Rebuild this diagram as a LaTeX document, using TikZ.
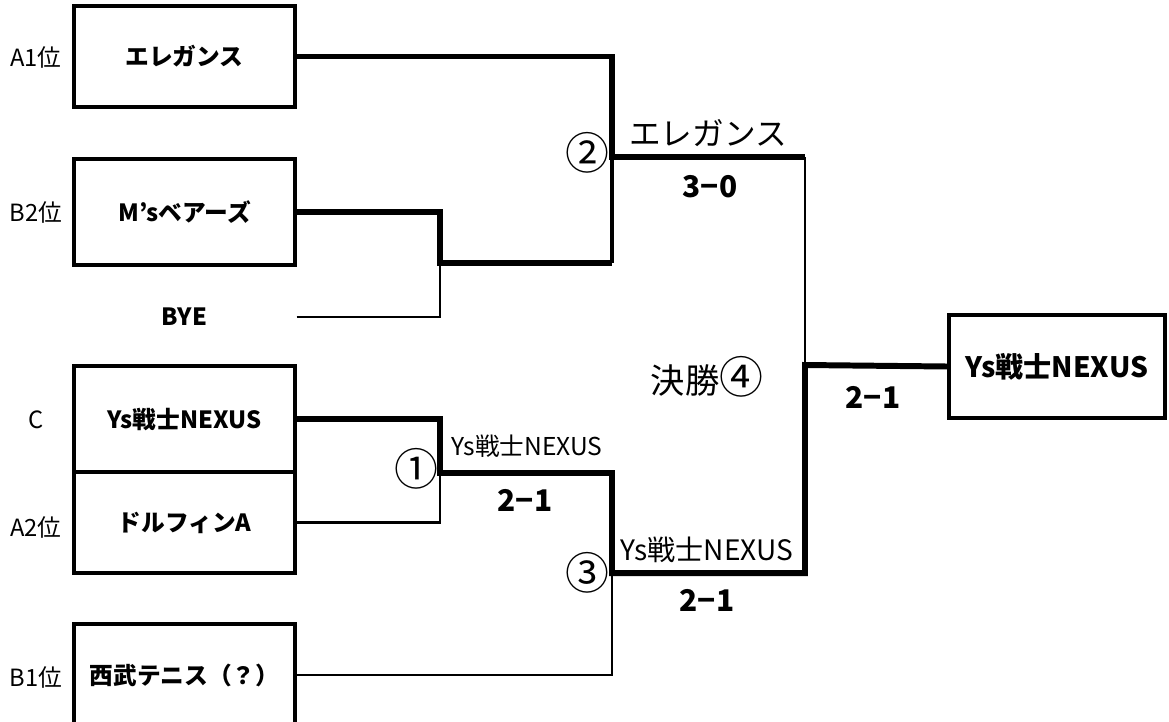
\documentclass[tikz,border=0pt]{standalone}
\usepackage{fontspec}
\setmainfont{Noto Sans CJK JP}
\usepackage{tikz}

\newcommand{\circnum}[1]{{\fontsize{25}{25}\selectfont #1}}

\begin{document}
\begin{tikzpicture}
    [x=0.02cm, y=-0.02cm,
      team/.style={draw, line width=1.8pt, minimum width=4.42cm, inner sep=0pt,
        font=\bfseries\fontsize{13.5}{16}\selectfont},
      seed/.style={font=\fontsize{13.5}{16}\selectfont},
      big/.style={font=\fontsize{18}{21}\selectfont},
      small/.style={font=\fontsize{14}{16}\selectfont},
      score/.style={font=\bfseries\fontsize{17}{20}\selectfont},
      win/.style={line width=3.4pt},
      mid/.style={line width=1.8pt},
      lose/.style={line width=1.2pt}]
    \useasboundingbox (0,0) rectangle (1169,721);

    \node[team, minimum height=2.02cm] (ele) at (184.5,56.5) {エレガンス};
    \node[team, minimum height=2.12cm] (ms) at (184.5,212) {M’sベアーズ};
    \node[team, draw=none, minimum height=1cm] (bye) at (184.5,317) {BYE};
    \node[team, minimum height=2.12cm] (ys) at (184.5,419) {Ys戦士NEXUS};
    \node[team, minimum height=2.02cm] (dol) at (184.5,522.5) {ドルフィンA};
    \node[team, minimum height=2.04cm] (sb) at (184.5,675) {西武テニス（？）};
    \node[team, minimum width=4.32cm, minimum height=2.06cm,
      font=\bfseries\fontsize{16}{19}\selectfont] (fin) at (1057,366.5) {Ys戦士NEXUS};

    \node[seed] (sa1) at (36,57) {A1位};
    \node[seed] (sb2) at (36,212) {B2位};
    \node[seed] (sc) at (36,420) {C};
    \node[seed] (sa2) at (36,527) {A2位};
    \node[seed] (sb1) at (36,677) {B1位};

    \coordinate (m1) at (440,473);
    \coordinate (mb) at (440,263);
    \coordinate (m2) at (612,157);
    \coordinate (m3) at (612,573);
    \coordinate (m4) at (805,365);

    \draw[win] (ele.east) -| (m2) -- (m2 -| m4);
    \draw[lose] (m2 -| m4) -- (m4);
    \draw[win] (ms.east) -| (mb) -- (mb -| m2);
    \draw[mid] (mb -| m2) -- (m2);
    \draw[lose] (bye.east) -| (mb);
    \draw[win] (ys.east) -| (m1) -| (m3) -| (m4) -- (fin.west);
    \draw[lose] (dol.east) -| (m1);
    \draw[lose] (sb.east) -| (m3);

    \node[big] (n2) at (587,153) {\circnum{②}};
    \node[big] (w2) at (708,133) {エレガンス};
    \node[score] (s2) at (710,187) {3−0};
    \node[big] (n1) at (416,469) {\circnum{①}};
    \node[small] (w1) at (527,446) {Ys戦士NEXUS};
    \node[score] (s1) at (525,500) {2−1};
    \node[big] (n3) at (587,573) {\circnum{③}};
    \node[small, font=\fontsize{16}{19}\selectfont] (w3) at (707,550) {Ys戦士NEXUS};
    \node[score] (s3) at (707,600) {2−1};
    \node[big, font=\fontsize{19.5}{23}\selectfont] (n4) at (707,377) {決勝\circnum{④}};
    \node[score] (s4) at (873,397) {2−1};
  \end{tikzpicture}
\end{document}
